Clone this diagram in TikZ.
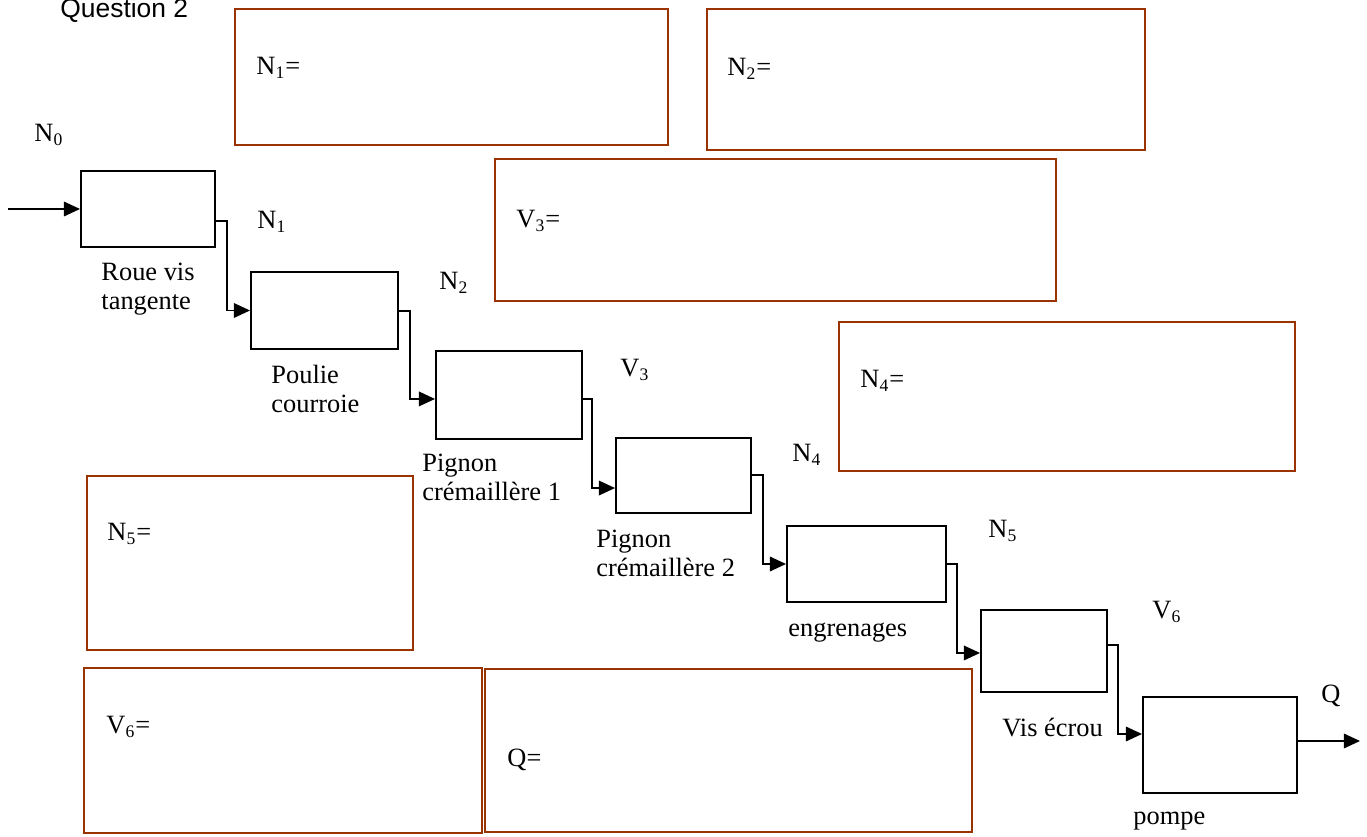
\documentclass[tikz,border=0pt]{standalone}
\usepackage{fontspec}
\setmainfont{Liberation Serif}
\setsansfont{Liberation Sans}
\usetikzlibrary{arrows.meta,fit}
\definecolor{brownbox}{RGB}{153,51,0}
\begin{document}
\begin{tikzpicture}[x=0.4545pt,y=-0.4545pt,
  font=\fontsize{12}{13.2}\selectfont,
  blk/.style={draw=black,line width=0.9pt,inner sep=0pt},
  ansbox/.style={draw=brownbox,line width=0.9pt,inner sep=0pt},
  lbl/.style={anchor=base west,inner sep=0pt},
  capt/.style={anchor=base west,inner sep=0pt,align=left},
  conn/.style={line width=0.75pt,-{Triangle[length=7.3pt,width=6.6pt]}},
]
\useasboundingbox (0,0) rectangle (1367,837);

% title
\node[lbl,font=\sffamily\fontsize{12}{13.2}\selectfont] (title) at (60,18) {Question 2};

% answer boxes
\node[ansbox,fit={(235,9) (668,145)}] (r1) {};
\node[ansbox,fit={(707,9) (1145,150)}] (r2) {};
\node[ansbox,fit={(495,159) (1056,301)}] (r3) {};
\node[ansbox,fit={(839,322) (1295,471)}] (r4) {};
\node[ansbox,fit={(87,476) (413,650)}] (r5) {};
\node[ansbox,fit={(84,668) (482,833)}] (r6) {};
\node[ansbox,fit={(485,669) (972,832)}] (r7) {};

\node[lbl] (t1) at (256,75) {N\textsubscript{1}=};
\node[lbl] (t2) at (727,76) {N\textsubscript{2}=};
\node[lbl] (t3) at (516,228) {V\textsubscript{3}=};
\node[lbl] (t4) at (860,388) {N\textsubscript{4}=};
\node[lbl] (t5) at (107,541) {N\textsubscript{5}=};
\node[lbl] (t6) at (106,734) {V\textsubscript{6}=};
\node[lbl] (t7) at (507,767) {Q=};

% chain boxes
\node[blk,fit={(81,171) (215,247)}] (b1) {};
\node[blk,fit={(251,272) (398,349)}] (b2) {};
\node[blk,fit={(436,351) (582,439)}] (b3) {};
\node[blk,fit={(616,438) (751,513)}] (b4) {};
\node[blk,fit={(787,526) (946,602)}] (b5) {};
\node[blk,fit={(981,610) (1107,692)}] (b6) {};
\node[blk,fit={(1143,697) (1297,793)}] (b7) {};

% captions (anchor = baseline of the last line)
\node[capt] (c1) at (101,310) {Roue vis\\tangente};
\node[capt] (c2) at (271,413) {Poulie\\courroie};
\node[capt] (c3) at (422,501) {Pignon\\crémaillère 1};
\node[capt] (c4) at (596,577) {Pignon\\crémaillère 2};
\node[lbl] (c5) at (788,637) {engrenages};
\node[lbl] (c6) at (1002,737) {Vis écrou};
\node[lbl] (c7) at (1133,825) {pompe};

% flow labels
\node[lbl] (f0) at (34,142) {N\textsubscript{0}};
\node[lbl] (f1) at (257,229) {N\textsubscript{1}};
\node[lbl] (f2) at (439,290) {N\textsubscript{2}};
\node[lbl] (f3) at (620,377) {V\textsubscript{3}};
\node[lbl] (f4) at (792,462) {N\textsubscript{4}};
\node[lbl] (f5) at (988,538) {N\textsubscript{5}};
\node[lbl] (f6) at (1152,619) {V\textsubscript{6}};
\node[lbl] (f7) at (1321,703) {Q};

% connectors
\coordinate (in) at (8,209);
\coordinate (j1) at (227,221);
\coordinate (j2) at (410,311);
\coordinate (j3) at (592,399);
\coordinate (j4) at (763,475);
\coordinate (j5) at (957,564);
\coordinate (j6) at (1118,645);
\coordinate (out) at (1360,741);

\draw[conn] (in) -- (b1.west);
\draw[conn] (b1.east |- j1) -- (j1) |- (b2.west);
\draw[conn] (b2.east |- j2) -- (j2) |- ([yshift=-1.8pt]b3.west);
\draw[conn] (b3.east |- j3) -- (j3) |- ([yshift=-5.7pt]b4.west);
\draw[conn] (b4.east |- j4) -- (j4) |- (b5.west);
\draw[conn] (b5.east |- j5) -- (j5) |- ([yshift=-0.9pt]b6.west);
\draw[conn] (b6.east |- j6) -- (j6) |- ([yshift=5pt]b7.west);
\draw[conn] (b7.east |- out) -- (out);
\end{tikzpicture}
\end{document}
